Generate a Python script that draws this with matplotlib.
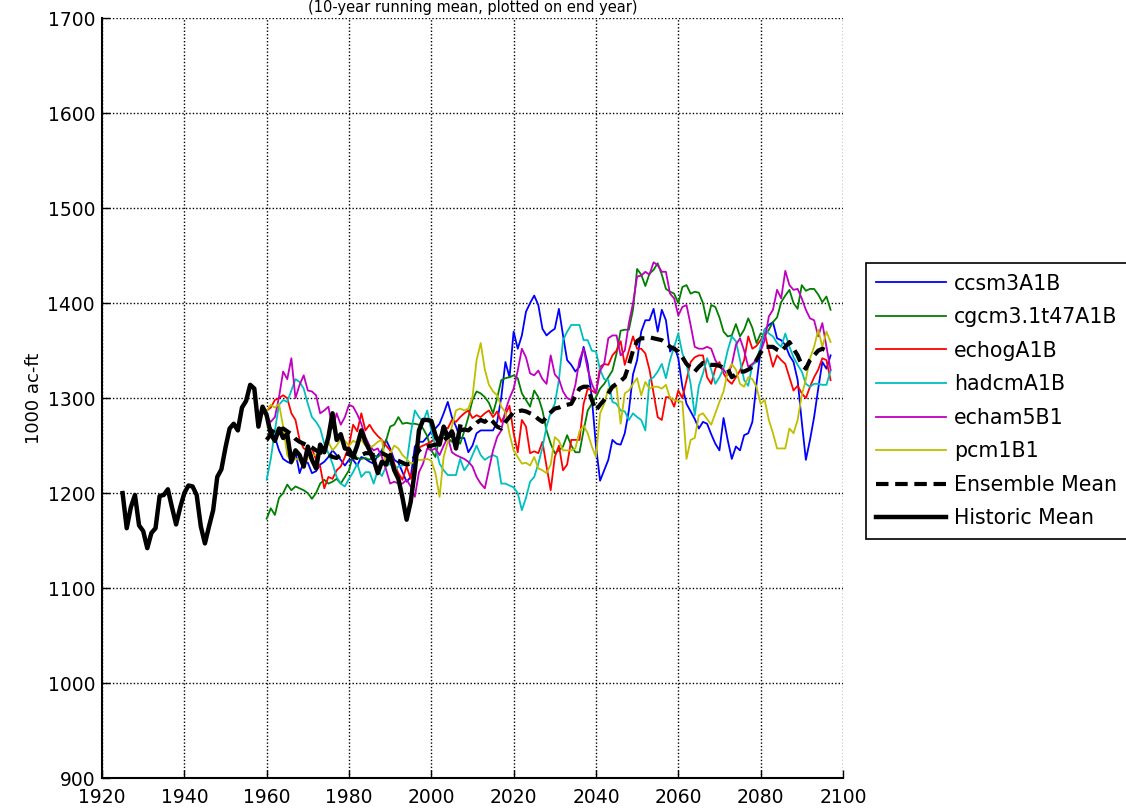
import matplotlib
matplotlib.use('Agg')
import matplotlib.pyplot as plt

# годы
hist_years = list(range(1925, 2008))
model_years = list(range(1960, 2098))

historic_mean = [
    1200, 1163, 1185, 1198, 1166, 1160, 1142, 1158, 1163, 1197,
    1198, 1204, 1185, 1167, 1185, 1200, 1208, 1207, 1198, 1165,
    1147, 1165, 1182, 1217, 1225, 1248, 1268, 1273, 1266, 1290,
    1297, 1314, 1310, 1270, 1291, 1282, 1262, 1255, 1268, 1258,
    1262, 1233, 1245, 1240, 1228, 1249, 1235, 1226, 1251, 1243,
    1259, 1284, 1256, 1262, 1247, 1246, 1238, 1250, 1266, 1254,
    1245, 1235, 1221, 1233, 1230, 1240, 1224, 1215, 1195, 1172,
    1191, 1224, 1266, 1277, 1277, 1276, 1261, 1251, 1270, 1259,
    1265, 1247, 1270,
]

ccsm3 = [
    1282, 1268, 1259, 1245, 1236, 1233, 1231, 1243, 1221, 1233,
    1232, 1221, 1223, 1230, 1233, 1238, 1245, 1240, 1235, 1229,
    1235, 1235, 1229, 1238, 1236, 1233, 1231, 1240, 1245, 1256,
    1247, 1235, 1232, 1222, 1212, 1217, 1249, 1254, 1254, 1259,
    1265, 1268, 1273, 1284, 1296, 1280, 1270, 1258, 1258, 1243,
    1250, 1263, 1266, 1266, 1266, 1266, 1275, 1301, 1338, 1322,
    1370, 1352, 1366, 1391, 1400, 1408, 1398, 1373, 1366, 1370,
    1373, 1394, 1366, 1340, 1335, 1328, 1333, 1354, 1336, 1300,
    1250, 1213, 1224, 1235, 1256, 1252, 1251, 1263, 1287, 1325,
    1340, 1370, 1382, 1382, 1394, 1370, 1393, 1382, 1349, 1355,
    1342, 1312, 1294, 1286, 1278, 1268, 1275, 1273, 1262, 1252,
    1245, 1279, 1256, 1236, 1249, 1245, 1261, 1263, 1275, 1315,
    1351, 1372, 1377, 1380, 1363, 1361, 1356, 1345, 1338, 1319,
    1275, 1235, 1256, 1280, 1310, 1338, 1331, 1345,
]

cgcm3 = [
    1173, 1184, 1177, 1195, 1200, 1209, 1203, 1207, 1205, 1203,
    1200, 1194, 1200, 1210, 1214, 1210, 1212, 1215, 1210, 1217,
    1224, 1240, 1237, 1236, 1237, 1235, 1240, 1238, 1242, 1255,
    1270, 1272, 1280, 1273, 1274, 1273, 1273, 1272, 1268, 1260,
    1245, 1238, 1259, 1262, 1258, 1254, 1256, 1252, 1265, 1280,
    1298, 1307, 1305, 1301, 1295, 1284, 1300, 1319, 1321, 1322,
    1324, 1321, 1305, 1298, 1291, 1308, 1301, 1287, 1266, 1252,
    1242, 1245, 1249, 1261, 1250, 1243, 1243, 1266, 1287, 1294,
    1301, 1310, 1315, 1322, 1329, 1347, 1371, 1372, 1372, 1393,
    1436, 1430, 1418, 1431, 1435, 1442, 1430, 1415, 1412, 1410,
    1400, 1417, 1419, 1410, 1412, 1411, 1400, 1380, 1398, 1396,
    1385, 1370, 1365, 1366, 1378, 1365, 1372, 1384, 1374, 1358,
    1368, 1366, 1372, 1380, 1385, 1401, 1408, 1414, 1400, 1394,
    1419, 1413, 1415, 1415, 1409, 1401, 1407, 1393,
]

echog = [
    1287, 1290, 1298, 1300, 1303, 1300, 1284, 1277, 1256, 1247,
    1245, 1247, 1235, 1228, 1205, 1217, 1215, 1224, 1228, 1238,
    1250, 1272, 1265, 1284, 1266, 1272, 1265, 1260, 1256, 1250,
    1245, 1231, 1221, 1214, 1228, 1215, 1231, 1248, 1250, 1252,
    1254, 1258, 1259, 1270, 1268, 1277, 1275, 1280, 1284, 1287,
    1279, 1282, 1280, 1284, 1287, 1280, 1286, 1275, 1283, 1292,
    1263, 1243, 1277, 1270, 1242, 1244, 1242, 1254, 1228, 1203,
    1238, 1250, 1224, 1230, 1256, 1256, 1256, 1294, 1310, 1308,
    1305, 1333, 1336, 1335, 1345, 1350, 1360, 1335, 1350, 1365,
    1352, 1352, 1347, 1330, 1305, 1280, 1277, 1301, 1301, 1291,
    1308, 1300, 1319, 1338, 1343, 1345, 1345, 1322, 1315, 1331,
    1338, 1326, 1319, 1315, 1322, 1329, 1340, 1365, 1352, 1355,
    1361, 1368, 1350, 1333, 1345, 1340, 1336, 1322, 1308, 1313,
    1305, 1300, 1312, 1322, 1330, 1342, 1340, 1319,
]

hadcm = [
    1214, 1236, 1266, 1293, 1298, 1296, 1308, 1320, 1317, 1310,
    1294, 1280, 1275, 1268, 1252, 1242, 1231, 1217, 1210, 1207,
    1215, 1222, 1231, 1217, 1222, 1222, 1210, 1224, 1218, 1228,
    1231, 1224, 1228, 1229, 1231, 1263, 1287, 1280, 1275, 1287,
    1266, 1249, 1231, 1224, 1219, 1219, 1219, 1236, 1224, 1230,
    1240, 1250, 1240, 1235, 1238, 1240, 1238, 1210, 1210, 1208,
    1206, 1200, 1182, 1195, 1212, 1217, 1231, 1248, 1270, 1285,
    1294, 1319, 1361, 1370, 1377, 1377, 1377, 1361, 1361, 1350,
    1349, 1330, 1320, 1319, 1296, 1294, 1287, 1286, 1277, 1284,
    1280, 1277, 1266, 1319, 1322, 1328, 1336, 1321, 1340, 1354,
    1368, 1347, 1336, 1315, 1282, 1313, 1326, 1342, 1330, 1315,
    1322, 1331, 1350, 1365, 1360, 1340, 1319, 1313, 1335, 1338,
    1355, 1373, 1368, 1365, 1358, 1354, 1368, 1354, 1343, 1335,
    1328, 1315, 1312, 1315, 1315, 1314, 1314, 1329,
]

echam5 = [
    1280, 1275, 1280, 1301, 1328, 1320, 1342, 1300, 1314, 1324,
    1308, 1307, 1303, 1284, 1287, 1291, 1268, 1284, 1272, 1280,
    1293, 1291, 1283, 1273, 1259, 1250, 1245, 1247, 1238, 1225,
    1210, 1212, 1210, 1210, 1214, 1207, 1196, 1222, 1231, 1247,
    1245, 1247, 1240, 1250, 1259, 1243, 1240, 1238, 1236, 1233,
    1228, 1217, 1210, 1205, 1225, 1245, 1259, 1266, 1287, 1300,
    1310, 1329, 1352, 1343, 1326, 1324, 1329, 1320, 1315, 1345,
    1325, 1320, 1307, 1300, 1298, 1314, 1340, 1352, 1330, 1315,
    1305, 1329, 1336, 1363, 1366, 1366, 1345, 1350, 1379, 1400,
    1428, 1429, 1433, 1430, 1443, 1440, 1433, 1433, 1410, 1405,
    1387, 1396, 1398, 1377, 1354, 1352, 1352, 1354, 1352, 1340,
    1333, 1330, 1324, 1335, 1356, 1363, 1350, 1333, 1336, 1340,
    1349, 1361, 1386, 1393, 1414, 1405, 1434, 1419, 1414, 1415,
    1405, 1393, 1384, 1382, 1365, 1379, 1354, 1330,
]

pcm1 = [
    1287, 1293, 1290, 1294, 1270, 1240, 1233, 1236, 1235, 1226,
    1238, 1240, 1240, 1242, 1247, 1254, 1245, 1250, 1257, 1255,
    1250, 1255, 1253, 1256, 1250, 1248, 1250, 1254, 1256, 1228,
    1242, 1250, 1247, 1240, 1236, 1231, 1233, 1235, 1235, 1236,
    1234, 1221, 1196, 1238, 1254, 1270, 1287, 1289, 1287, 1289,
    1301, 1340, 1358, 1330, 1314, 1307, 1303, 1291, 1285, 1262,
    1245, 1238, 1231, 1232, 1229, 1238, 1226, 1224, 1221, 1230,
    1259, 1255, 1245, 1245, 1245, 1247, 1265, 1271, 1263, 1249,
    1238, 1284, 1294, 1310, 1310, 1312, 1273, 1305, 1308, 1315,
    1321, 1303, 1317, 1310, 1312, 1312, 1310, 1314, 1300, 1298,
    1297, 1296, 1236, 1256, 1258, 1282, 1284, 1278, 1272, 1284,
    1296, 1307, 1328, 1336, 1330, 1315, 1312, 1322, 1320, 1312,
    1294, 1298, 1277, 1263, 1247, 1247, 1247, 1268, 1263, 1277,
    1303, 1320, 1342, 1354, 1372, 1354, 1370, 1359,
]

ensemble_mean = [
    1256, 1262, 1268, 1266, 1268, 1265, 1262, 1257, 1254, 1252,
    1250, 1248, 1245, 1243, 1242, 1241, 1238, 1237, 1240, 1242,
    1241, 1238, 1237, 1240, 1242, 1242, 1240, 1240, 1242, 1240,
    1236, 1236, 1234, 1232, 1230, 1231, 1238, 1245, 1248, 1249,
    1250, 1251, 1252, 1256, 1259, 1262, 1265, 1266, 1267, 1266,
    1270, 1274, 1277, 1275, 1279, 1275, 1270, 1268, 1275, 1280,
    1285, 1286, 1287, 1286, 1284, 1282, 1278, 1275, 1280, 1285,
    1289, 1290, 1292, 1293, 1294, 1302, 1310, 1312, 1312, 1298,
    1287, 1293, 1298, 1305, 1312, 1315, 1318, 1322, 1335, 1350,
    1360, 1363, 1363, 1364, 1363, 1362, 1361, 1358, 1354, 1352,
    1349, 1343, 1336, 1332, 1328, 1333, 1337, 1336, 1335, 1335,
    1334, 1332, 1331, 1322, 1325, 1328, 1328, 1330, 1333, 1340,
    1348, 1354, 1354, 1354, 1351, 1349, 1354, 1359, 1352, 1345,
    1335, 1331, 1340, 1345, 1350, 1352, 1350, 1349,
]

model_names = ['ccsm3A1B', 'cgcm3.1t47A1B', 'echogA1B', 'hadcmA1B', 'echam5B1', 'pcm1B1']
model_data = [ccsm3, cgcm3, echog, hadcm, echam5, pcm1]
# цвета как в matlab
model_colors = [(0, 0, 1), (0, 0.5, 0), (1, 0, 0), (0, 0.75, 0.75), (0.75, 0, 0.75), (0.75, 0.75, 0)]

x_ticks = list(range(1920, 2101, 20))
y_ticks = list(range(900, 1701, 100))

plt.rcParams['font.family'] = 'DejaVu Sans'

fig = plt.figure(figsize=(11.26, 8.1), dpi=100)
ax = fig.add_axes([0.0906, 0.0395, 0.658, 0.938])

for name, vals, col in zip(model_names, model_data, model_colors):
    ax.plot(model_years, vals, color=col, linewidth=1.3, label=name)

ax.plot(model_years, ensemble_mean, color='black', linewidth=3, linestyle=(0, (3, 1.6)),
        label='Ensemble Mean')
ax.plot(hist_years, historic_mean, color='black', linewidth=3.2, label='Historic Mean')

ax.set_xlim(1920, 2100)
ax.set_ylim(900, 1700)
ax.set_xticks(x_ticks)
ax.set_yticks(y_ticks)
ax.grid(True, color='black', linestyle=(0, (1, 1.5)), linewidth=1)
ax.tick_params(direction='in', length=6, width=1, labelsize=13.5, top=False, right=False)
ax.tick_params(axis='x', pad=7)
ax.tick_params(axis='y', pad=5)
ax.spines['top'].set_visible(False)
ax.spines['right'].set_visible(False)
ax.spines['left'].set_linewidth(1.5)
ax.spines['bottom'].set_linewidth(1.5)
ax.set_ylabel('1000 ac-ft', fontsize=13, labelpad=3)

# подзаголовок над графиком
fig.text(0.4195, 0.9995, '(10-year running mean, plotted on end year)', ha='center', va='top',
         fontsize=10.5)

leg = fig.legend(loc='upper left', bbox_to_anchor=(0.769, 0.675), fontsize=14.8,
                 handlelength=3.4, handletextpad=0.4, labelspacing=0.66, borderpad=0.5,
                 borderaxespad=0, fancybox=False, framealpha=1, edgecolor='black')
leg.get_frame().set_linewidth(1.2)

fig.savefig('out.png', dpi=100)
